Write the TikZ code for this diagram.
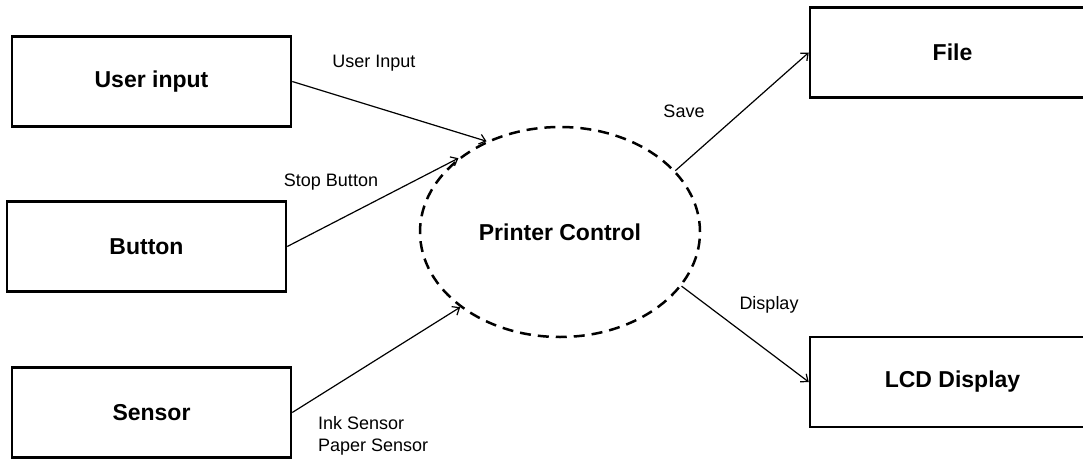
\documentclass[tikz,border=0pt]{standalone}
\usepackage{fontspec}
\setmainfont{Liberation Sans}
\usepackage{tikz}
\usetikzlibrary{shapes,arrows.meta}
\tikzstyle{block} = [draw, fill=white, rectangle, line width=2.5pt,
    minimum height=90pt, minimum width=279pt, inner sep=0pt,
    font=\fontsize{23}{27}\selectfont\bfseries]
\tikzstyle{process} = [draw, ellipse, dash pattern=on 11pt off 7pt,
    line width=2.5pt, minimum width=280pt, minimum height=210pt, inner sep=0pt,
    font=\fontsize{23}{27}\selectfont\bfseries]
\tikzstyle{flowlabel} = [inner sep=0pt, font=\fontsize{18}{22}\selectfont]
\tikzstyle{flow} = [->, line width=1.2pt]

\begin{document}
\begin{tikzpicture}[x=1pt, y=-1pt, node distance=165pt, >={Straight Barb[length=6pt,width=10pt]}]
\useasboundingbox (0,0) rectangle (1083,460);
% Sources
	\node [block] (user) at (151.5,81.5) {User input};
	\node [block, below of=user, xshift=-5pt] (button) {Button};
	\node [block, below of=button, node distance=166pt, xshift=5pt] (sensor) {Sensor};
% Process
	\node [process] (ctrl) at (560,232) {Printer Control};
% Sinks
	\node [block, minimum width=285pt] (file) at (952.5,52.5) {File};
	\node [block, minimum width=285pt, below of=file, node distance=329.5pt] (lcd) {LCD Display};
% Flows into the process
	\draw [flow] (user.east) -- (ctrl.129);
	\node [flowlabel] (userlbl) at (374,63) {User Input};
	\draw [flow] (button.east) -- (ctrl.144);
	\node [flowlabel] (buttonlbl) at (331,182) {Stop Button};
	\draw [flow] (sensor.east) -- (ctrl.217);
	\node [flowlabel, anchor=west, align=left] (sensorlbl) at (318,436) {Ink Sensor\\Paper Sensor};
% Flows out of the process
	\draw [flow] (ctrl.28) -- (file.west);
	\node [flowlabel] (filelbl) at (684,111) {Save};
	\draw [flow] (ctrl.-24) -- (lcd.west);
	\node [flowlabel] (lcdlbl) at (769,305) {Display};
\end{tikzpicture}
\end{document}
